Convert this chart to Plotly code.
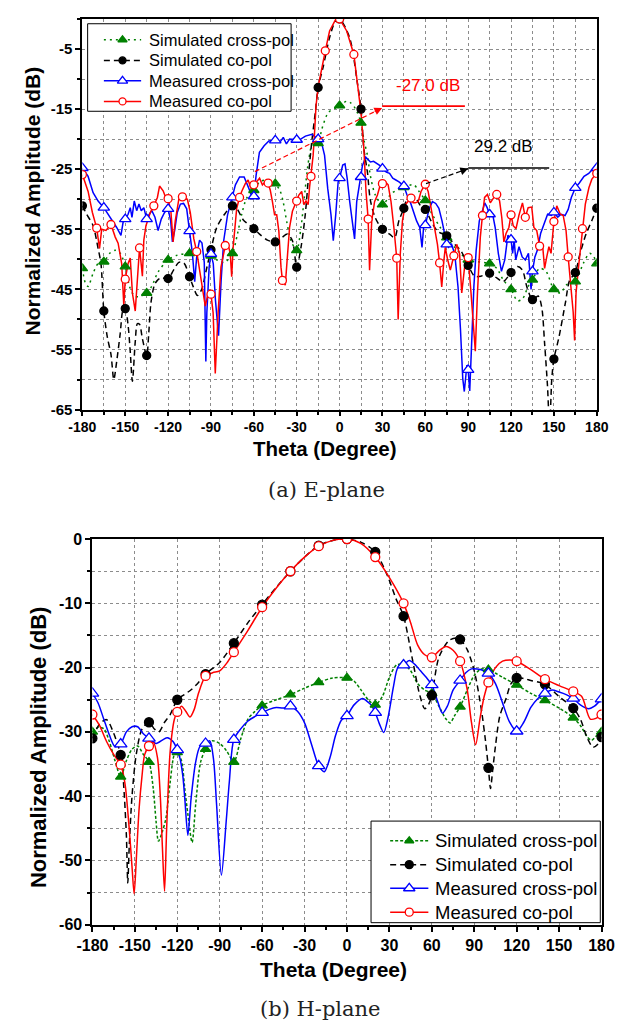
import plotly.graph_objects as go

W, H = 625, 1032

# ================= E-plane (a) =================
E_th_sim_x = [-180, -178, -176, -172.5, -169, -165, -160.5, -157, -153.5, -150, -147, -143.5, -140, -135, -131.5, -127,
              -120, -113.5, -105, -98, -90, -85, -80.5, -75, -71.5, -68.5, -65, -60, -56, -51.5, -45, -41.5, -39.5, -37,
              -34, -30, -27, -25, -21.5, -18.5, -15, -12.5, -8, -3.5, 0, 5, 8, 11.5, 15, 17, 19.5, 21.5, 25, 30, 36.5,
              45, 52, 55, 60, 65, 70.5, 75, 80.5, 85, 90, 96.5, 105, 110, 114.5, 120, 124.5, 128, 132, 135, 140, 144.5,
              150, 154.5, 159, 165, 170.5, 175, 178, 180]
E_sim_x = [-41.5, -43.9, -44.5, -42.3, -40.7, -40.4, -38.9, -38.5, -39, -41.2, -44.5, -46.1, -46.2, -45.6, -44.5, -42.1,
           -40.1, -39.3, -39, -39, -39.4, -40.2, -40.5, -39, -35.8, -32.5, -29.8, -28.5, -27.1, -26.8, -27.4, -28.7, -30.4, -33.7,
           -36.9, -38.5, -34.7, -30.4, -23.3, -20.5, -20.7, -18.4, -15.6, -14.9, -14.4, -13.7, -14, -15.1, -17.3, -20.1, -22.7, -26, -29.3, -30.9, -29,
           -28, -27.6, -28.5, -30.2, -32.6, -34.7, -36.4, -38, -39.1, -40.1, -40.4, -40.7, -41.5, -43.4, -45, -46.9, -46.6, -44.5, -43.4, -41.5, -42,
           -45, -45.6, -44.2, -43.7, -40.7, -39, -39.6, -40.7]

E_th_sim_co = [-180, -177, -172.5, -169, -167, -165, -162.5, -160, -158, -156, -153.5, -151.5, -150, -148, -146.5, -145,
               -143, -141.5, -140, -138, -135, -133.5, -132, -129.5, -127.5, -125, -120, -116, -112.5, -109, -105, -102.5,
               -99.5, -96.5, -93.5, -90, -86, -80.5, -75, -71.5, -67.5, -60, -56, -50.5, -45, -40.5, -36.5, -33, -30, -27,
               -24, -21.5, -19.5, -17, -15, -11.5, -7, -3, 0, 7, 12.5, 15, 17, 19.5, 21.5, 25, 30, 35, 38.5, 41.5, 45, 47,
               50.5, 54, 57, 60, 64, 68.5, 75, 80.5, 85, 90, 94.5, 99, 105, 110, 114.5, 120, 124.5, 128, 131, 135, 139,
               141.5, 143.5, 145.5, 147, 148.5, 150, 153.5, 158, 161, 165, 168, 172.5, 177, 180]
E_sim_co = [-31.1, -32.5, -34.4, -38.2, -40.7, -48.6, -53, -55.8, -60, -57, -52.3, -48.4, -48.2, -51, -55.4, -60.3,
            -53.7, -50.7, -50.8, -53.2, -56.0, -52.1, -47.2, -44.2, -43.5, -43.1, -43.2, -41.7, -40.5, -40.6, -42.9, -44.5,
            -46, -45, -42, -38.4, -34.7, -32.5, -31.1, -31.7, -33.4, -34.9, -35.8, -36.8, -37.1, -36.4, -35.8, -36.9, -41.3, -38,
            -32.5, -25.5, -20.5, -15.6, -11.4, -8, -3.1, -0.4, 0, -3.1, -10.7, -15, -21.6, -25.5, -30.1, -33.1, -35, -35.8, -36.4, -33.6, -31.5, -30.1,
            -29.6, -30.1, -31.2, -31.7, -33.6, -35.3, -36.1, -37.5, -38.6, -41, -42.8, -42.8, -42.3, -43.1, -43.7, -42.2, -41.2, -41.8, -44.5, -46.7, -46.1,
            -48, -54, -61, -68, -60, -56.6, -53, -47.3, -43.5, -42.2, -39.3, -35.8, -33.3, -31.5]

E_th_meas_x = [-180, -176, -172.5, -169, -165, -161.5, -158.5, -156, -153, -151.5, -150, -148, -146.5, -145.3, -143.7, -142,
               -140.4, -138.8, -137, -135, -133.7, -131.4, -129.2, -127, -124.8, -122.5, -120, -118.2, -117, -115.4, -113.6,
               -111.4, -109.2, -107, -105, -103, -101.4, -99.8, -98, -96.3, -94.7, -93.6, -92.9, -91.3, -90, -88.4, -86.9,
               -84.7, -82.9, -81.1, -78.4, -75, -72.9, -70, -66.8, -64, -61.7, -60, -58.4, -56.1, -52.8, -49.5, -45, -41.7,
               -39.4, -37.2, -35, -30, -27.2, -23.9, -19.4, -15, -12.7, -10.5, -8.3, -6, -4.4, -2.7, -1, 0, 2.2, 3.8, 5.3,
               7.1, 8.9, 10.5, 12, 15, 16, 18.3, 19.4, 21.6, 23.8, 26.1, 28.3, 30, 32.7, 35, 37.2, 39.4, 41.6, 45, 47.2,
               49.4, 51.7, 53.9, 56.1, 57.7, 58.8, 60, 62.8, 65, 67.3, 69.5, 71.7, 75, 76.2, 78.4, 80.6, 82.9, 84.6, 86.2,
               87.3, 89.1, 90, 91.1, 92.2, 94, 95.6, 97.8, 100, 101.6, 103.3, 105, 107.3, 108.9, 111.1, 113.3, 115.6, 117.8,
               120, 121.1, 122.2, 123.3, 125.6, 127.8, 130, 132.2, 134, 135, 136.7, 138.4, 140.7, 142.9, 145.6, 148.2, 150,
               152.7, 155.1, 157.8, 160, 162.2, 165, 167.8, 171.1, 174.4, 177.8, 180]
E_meas_x = [-24.8, -26.2, -28.9, -30.3, -31.4, -32.7, -33.6, -34.7, -36, -33.8, -33.3, -32.5, -31.4, -33, -30.3, -31.9,
            -30.8, -31.9, -31.4, -33.3, -32.7, -31.9, -33, -35.2, -33.3, -32.2, -31.6, -33.6, -37.1, -35.2, -32.2,
            -30.8, -30.7, -31.6, -35.3, -39, -43.7, -39, -36.8, -37.3, -40.5, -57, -48.9, -41.3, -39.1, -40.7, -46.7,
            -52.7, -43.5, -36.9, -32.6, -29.7, -27.6, -26.3, -26.3, -27.9, -29.3, -29.5, -26, -22.2, -21.1, -20.3, -20.2, -20.5,
            -19.7, -20.8, -20, -20.1, -20, -19.5, -19.2, -20, -20.5, -22.7, -28.2, -32.6, -36.9, -32.6, -27.1, -26.5, -24.3, -24.1, -26.5,
            -30.4, -34.2, -36.6, -30.4, -26.3, -24.4, -23, -23.3, -23.8, -23.7, -24.1, -24.4, -24.9, -25.5, -25.7, -26.5, -26.8, -27.1, -27.8, -29.3,
            -30.4, -32, -33.6, -34.7, -38, -34.7, -34.3, -31.5, -30.4, -30.7, -31.5, -33.6, -37.5, -38, -37.5, -39.1, -44.6, -51.6, -59.8,
            -62, -57.6, -58.4, -61.9, -55.4, -44.5, -38.5, -33.6, -31.9, -30.6, -31.4, -32.5, -32.7, -34.7, -39, -42, -40.1, -36,
            -36.7, -39, -36.8, -40.1, -37.9, -39.6, -40.1, -39, -45, -42, -39.6, -38.5, -35.7, -34.4, -32.5, -32.7, -32.2,
            -33, -32.5, -32.7, -31.7, -29.7, -28.1, -27.3, -26.2, -25.7, -24.8, -24.8]

E_th_meas_co = [-180, -176, -173, -170, -168, -166.5, -163.5, -160, -157, -155, -152.5, -151, -150, -148, -146.5, -145,
                -143, -141.5, -140, -138, -137, -135.5, -132.5, -130, -127.5, -126, -123.5, -122, -120, -118, -116.5, -115,
                -112.5, -110, -106.5, -104.5, -102, -100, -97, -94, -92, -90, -88.5, -87, -85, -83, -80, -78, -76.5, -75.5,
                -74.5, -72, -70, -68.5, -66, -64, -62, -60, -58.5, -56, -54, -52, -50, -48.5, -47, -45.5, -44, -42.5, -41,
                -40, -38, -36.5, -35, -33, -30, -28.5, -26.5, -25, -23.5, -22, -21, -20, -18.5, -17.5, -16.5, -15, -12.5,
                -10, -7, -3, 0, 5, 10, 12.5, 15, 17, 18.5, 20, 21, 22.5, 24.5, 26.5, 28.5, 30, 32, 34, 36, 38, 40, 41, 42.5,
                44, 46, 50, 51.5, 53, 55, 57, 60, 62, 64, 66, 68.5, 70, 71.5, 73, 74, 75.5, 77.5, 80, 82, 84, 85.5, 87.5, 90,
                92, 95, 96.5, 98.5, 100, 101.5, 103.5, 105.5, 108, 110, 112, 113.5, 115, 116.5, 118.5, 120, 121.5, 123.5,
                125.5, 128, 130, 132, 134.5, 136, 138, 140, 142, 143.5, 145, 146.5, 148, 150, 152, 154.5, 156.5, 158.5, 160,
                162, 163.5, 164.5, 165.5, 167.5, 169, 170, 172, 174.5, 176.5, 179, 180]
E_meas_co = [-25.9, -28.7, -32.2, -34.8, -38.2, -35, -35.2, -34.2, -36.3, -37.3, -40.7, -47.7, -43.3, -40.7, -39.8, -45.6,
             -48.6, -42.3, -38.1, -42.8, -36.8, -34.4, -32.2, -31.1, -29.7, -27.8, -28.6, -29.5, -29.9, -32.2, -37.1, -33.6,
             -30, -29.6, -30, -32.2, -36.6, -38.7, -43.4, -47.8, -45.6, -45.8, -48.9, -59, -48.9, -41.3, -37.7, -37.5, -39.1, -42.9,
             -38, -31.5, -29.7, -28.7, -27.4, -26.8, -28.2, -27.6, -27.1, -26.5, -27.6, -27.1, -27.3, -28.5, -30.4, -32.6, -32.6, -35.3, -41.3,
             -43.5, -44.3, -40.2, -34.7, -32, -30.3, -29.3, -28.7, -30.9, -30.3, -30.9, -28, -26.2, -22.7, -18.9, -14.5, -11.3, -8,
             -5.3, -2, -0.2, 0, -2, -5.9, -10.7, -15.6, -21.6, -28.7, -33.3, -41.8, -33.6, -30.4, -29.3, -27.6, -27.4, -27.1, -27.6, -30.4, -34.7, -39.8, -50, -39.1,
             -33.6, -30.9, -29.8, -30.6, -30.6, -30.4, -28.7, -27.5, -28.7, -31.5, -34.7, -37.5, -40.6, -44.6, -40.2, -38, -39.9, -41.8, -39.4, -37.5, -39.1, -45.6, -41.3, -39.7,
             -45.6, -55.3, -45.6, -36.3, -32.7, -29.7, -29.2, -30.6, -29.7, -29.2, -30.3, -33, -37.1, -35.7, -34.7, -32.6, -34.4, -34.9,
             -32.7, -30.6, -33, -31.4, -31.3, -34.7, -35.2, -37.8, -37.4, -41.5, -39.6, -37.9, -39, -33.7, -31.1, -32.5, -32.7, -35.2, -39.6,
             -44.5, -48.8, -53.5, -45.6, -40.7, -37.4, -34.9, -30.8, -28.1, -26.7, -25.9, -25.7]

# ================= H-plane (b) =================
H_th_sim_x = [-180, -176, -172, -168, -164, -160, -156, -152, -148, -144, -140, -137, -135, -133.3, -130.5, -128, -125,
              -122, -120, -117, -114.7, -112.5, -109.5, -107, -103.5, -100, -95.5, -90, -85, -80, -75, -70, -65, -60, -50,
              -40, -30, -20, -10, 0, 5, 10, 15, 20, 25, 30, 35, 40, 45, 50, 55, 60, 65, 70, 73, 76, 80, 85, 90, 95, 100,
              110, 120, 130, 140, 150, 160, 165, 170, 173, 176, 180]
H_sim_x = [-30, -29.3, -29.5, -31.5, -34.5, -37, -34.5, -32.7, -32.2, -33.5, -34.7, -38.8, -43.9, -47, -45.5, -43.4, -37.8,
           -33.5, -33.2, -34.5, -38.8, -42.8, -47.2, -41.3, -34.7, -32.7, -31.4, -31.8, -33, -34.7, -31, -28, -26.8, -25.9, -25,
           -24.2, -23.2, -22.3, -21.6, -21.6, -22.1, -23.5, -25, -25.8, -24.5, -21.5, -19.6, -19.5, -20.5, -22.5, -23.5, -24, -26, -28, -28.6,
           -27.5, -26.1, -23.5, -21.2, -20.2, -20.3, -21.5, -22.7, -24, -25.1, -26.3, -27.8, -29, -30.8, -31.3, -30.7, -30]

H_th_sim_co = [-180, -175, -170, -165, -160, -158, -156, -155, -154, -152, -149, -145, -140, -136, -133, -129, -125, -120,
               -115, -110, -105, -100, -90, -80, -70, -60, -50, -40, -30, -20, -10, 0, 10, 20, 29, 34.5, 40, 46, 51.5, 55,
               58, 60, 65, 72, 77, 80, 85, 90, 95, 98, 100, 101.5, 103, 105, 108, 112.5, 116, 120, 125, 130, 140, 150, 160,
               165, 170, 174, 177, 180]
H_sim_co = [-31, -28.8, -28.1, -30.2, -33.6, -38, -46, -53.5, -48, -40, -33.5, -29.6, -28.5, -29.6, -30, -28.5, -27.3, -25,
            -24.2, -23.4, -22.3, -21, -19.2, -16.2, -13, -10.2, -7.5, -5, -2.8, -1.0, -0.2, 0, -0.5, -2, -5.9, -9.2, -12, -18.4, -24.3, -26.4,
            -25.6, -24.3, -18.4, -15.8, -15.4, -15.6, -17.2, -20.5, -26.5, -31.5, -35.6, -38.8, -36, -32.2, -27.6, -24.8, -22.5, -21.6, -21.7, -22, -22.6, -24.5, -26.3,
            -28, -31, -32.4, -32, -30.8]

H_th_meas_x = [-180, -176, -172, -168, -164, -160, -156, -152, -148, -144, -140, -135, -130, -127, -123, -120, -118, -116,
               -114.7, -112.5, -110.2, -107, -104, -100, -97, -94.4, -92.2, -88.8, -85.4, -83.2, -80, -75, -70, -65, -60,
               -55, -50, -45, -40, -35, -30, -25, -20, -16, -12, -8, -4, 0, 5, 11, 14, 17, 20, 23, 26, 29, 33, 36, 40, 44,
               48, 52, 56, 60, 64, 67.5, 71, 75, 80, 84, 88, 92, 96, 100, 105, 110, 115, 120, 125, 130, 135, 140, 145, 150,
               155, 160, 165, 171, 175, 180]
H_meas_x = [-24, -25.5, -28, -30.5, -32.3, -31.9, -30, -29.2, -29.2, -30.3, -31, -31.8, -31.2, -30.9, -31.5, -32.8, -34.2, -37,
            -40.3, -46.1, -40.3, -34.7, -32.3, -31.8, -31.4, -34.2, -41.3, -52.3, -43.9, -37.8, -31.2, -29.5, -28.3, -27.6, -27,
            -26.5, -26.2, -26.3, -26, -26.8, -28.6, -32, -35.3, -36.2, -34, -30.5, -28.2, -27.5, -25.8, -24.8, -25.2, -25.8, -27, -28.8, -30.1, -27.8,
            -22.8, -20, -19.6, -18.9, -19.5, -20.5, -21.5, -22.7, -25.2, -27.1, -26, -23.5, -22, -20.8, -20.2, -20.2, -20.4, -20.9, -22.5,
            -25.5, -28.5, -29.9, -28.5, -26.2, -24.8, -24, -23.5, -23.8, -24.2, -24.8, -25.8, -26.4, -26, -24.9]

H_th_meas_co = [-180, -175, -170, -165, -160, -157, -154, -152, -150.5, -149, -147, -145, -143, -140, -137, -134, -132,
                -130.5, -129, -127.5, -125, -122, -120, -117, -114, -111, -108, -105, -100, -95, -90, -85, -80, -70, -60,
                -50, -40, -30, -20, -10, 0, 10, 20, 30, 40, 45, 50, 55, 60, 65, 70, 75, 80, 85, 88, 91, 94, 97, 100, 105,
                110, 115, 120, 130, 140, 150, 160, 166, 172, 176, 180]
H_meas_co = [-27.3, -29, -31.5, -33.5, -35.1, -38, -45, -51, -55.2, -50, -42, -37, -33.5, -32.2, -31.6, -34, -40,
             -48, -54.8, -45, -33, -28, -26.9, -26, -26.8, -27.7, -26.5, -24, -21.3, -20.8, -20.5, -19.3, -17.6, -14.2, -10.6,
             -7.6, -5, -2.8, -1.1, -0.2, 0, -0.7, -2.8, -6, -10, -13, -16.5, -18, -18.4, -17.4, -16.7, -17.3, -19, -23.4, -28.5,
             -32, -28, -24.5, -22.3, -20, -19, -18.8, -19, -20.3, -21.8, -22.8, -23.7, -24.5, -28, -27.9, -27.3]

# ticks
E_xticks = [-180, -150, -120, -90, -60, -30, 0, 30, 60, 90, 120, 150, 180]
E_yticks = [-65, -55, -45, -35, -25, -15, -5]
H_xticks = [-180, -150, -120, -90, -60, -30, 0, 30, 60, 90, 120, 150, 180]
H_yticks = [-60, -50, -40, -30, -20, -10, 0]

NAMES = ["Simulated cross-pol", "Simulated co-pol", "Measured cross-pol", "Measured co-pol"]
GREEN, BLACK, BLUE, RED = "#008000", "#000000", "#0000FF", "#FF0000"
FONT = "Liberation Sans"
GRID = "#8c8c8c"

# plot-area geometry (pixels)
TOP = dict(l=69.5, r=608, t=11.15, b=408.3, yr=[-65, 0])
BOT = dict(l=80, r=613, t=540, b=932, yr=[-60, 0])

fig = go.Figure()


def add_line(th, vals, xa, ya, color, dash, spline):
    fig.add_trace(go.Scatter(x=th, y=vals, xaxis=xa, yaxis=ya, mode="lines", showlegend=False,
                             line=dict(color=color, width=1.5, dash=dash, shape="spline" if spline else "linear",
                                       smoothing=0.8), hoverinfo="skip"))


def add_markers(th, vals, xa, ya, color, msym, mfill, msize, step):
    mt = [t for t in th if t % step == 0]
    mv = [v for t, v in zip(th, vals) if t % step == 0]
    fig.add_trace(go.Scatter(x=mt, y=mv, xaxis=xa, yaxis=ya, mode="markers", showlegend=False,
                             marker=dict(symbol=msym, size=msize, color=mfill,
                                         line=dict(color=color, width=1.3)), hoverinfo="skip"))


top = [
    (E_th_sim_x, E_sim_x, GREEN, "2px,4px", True, "triangle-up", GREEN, 9, 15),
    (E_th_sim_co, E_sim_co, BLACK, "6px,4px", True, "circle", BLACK, 8, 15),
    (E_th_meas_x, E_meas_x, BLUE, "solid", False, "triangle-up", "white", 10, 15),
    (E_th_meas_co, E_meas_co, RED, "solid", False, "circle", "white", 8, 10),
]
bot = [
    (H_th_sim_x, H_sim_x, GREEN, "3px,2px", True, "triangle-up", GREEN, 9, 20),
    (H_th_sim_co, H_sim_co, BLACK, "6px,4px", True, "circle", BLACK, 9, 20),
    (H_th_meas_x, H_meas_x, BLUE, "solid", True, "triangle-up", "white", 11, 20),
    (H_th_meas_co, H_meas_co, RED, "solid", True, "circle", "white", 9, 20),
]

# legend boxes drawn inside each panel (pixel geometry -> panel coordinates)
LEG_TOP = dict(box=(75, 288, 16, 105), rows=[32.3, 53.3, 74, 95], lx=(92, 131), mx=111.5, tx=137, fs=16.5)
LEG_BOT = dict(box=(371.7, 611.7, 826.7, 930), rows=[846.7, 871, 895, 919.3], lx=(391.7, 431.7), mx=411.7,
               tx=436.7, fs=18.5)

legend_texts = []


def draw_panel(series, xa, ya, geo, leg):
    def px2x(p):
        return (p - geo["l"]) / (geo["r"] - geo["l"]) * 360 - 180

    def py2y(p):
        y0, y1 = geo["yr"]
        return y1 - (p - geo["t"]) / (geo["b"] - geo["t"]) * (y1 - y0)

    for th, v, c, d, sp, ms, mf, sz, st in series:
        add_line(th, v, xa, ya, c, d, sp)
    for th, v, c, d, sp, ms, mf, sz, st in series:
        add_markers(th, v, xa, ya, c, ms, mf, sz, st)
    # legend frame
    bl, br, bt, bb = leg["box"]
    fig.add_trace(go.Scatter(x=[px2x(bl), px2x(br), px2x(br), px2x(bl), px2x(bl)],
                             y=[py2y(bt), py2y(bt), py2y(bb), py2y(bb), py2y(bt)],
                             xaxis=xa, yaxis=ya, mode="lines", fill="toself", fillcolor="white",
                             line=dict(color="black", width=1), showlegend=False, hoverinfo="skip"))
    for (th, v, c, d, sp, ms, mf, sz, st), nm, ry in zip(series, NAMES, leg["rows"]):
        fig.add_trace(go.Scatter(x=[px2x(leg["lx"][0]), px2x(leg["lx"][1])], y=[py2y(ry), py2y(ry)],
                                 xaxis=xa, yaxis=ya, mode="lines", line=dict(color=c, width=1.5, dash=d),
                                 showlegend=False, hoverinfo="skip"))
        fig.add_trace(go.Scatter(x=[px2x(leg["mx"])], y=[py2y(ry)], xaxis=xa, yaxis=ya, mode="markers",
                                 marker=dict(symbol=ms, size=sz - 1, color=mf, line=dict(color=c, width=1.3)),
                                 showlegend=False, hoverinfo="skip"))
        legend_texts.append(dict(x=px2x(leg["tx"]), y=py2y(ry), xref=xa, yref=ya, text=nm, showarrow=False,
                                 xanchor="left", yanchor="middle",
                                 font=dict(family=FONT, size=leg["fs"], color="black")))


draw_panel(top, "x", "y", TOP, LEG_TOP)
draw_panel(bot, "x2", "y2", BOT, LEG_BOT)


def xaxis(domain, anchor, ticks, minor_vals, grid_minor, fs, tl):
    return dict(domain=domain, anchor=anchor, range=[-180, 180], tickmode="array",
                tickvals=ticks, ticktext=[str(t) for t in ticks],
                tickfont=dict(family=FONT, size=fs, color="black", weight="bold"),
                showline=True, linewidth=2, linecolor="black", mirror=True,
                ticks="outside", ticklen=tl, tickwidth=1.5, tickcolor="black",
                showgrid=True, gridcolor=GRID, griddash="dot", gridwidth=1, zeroline=False,
                minor=dict(tickmode="array", tickvals=minor_vals, ticks="outside", ticklen=3,
                           tickcolor="black", showgrid=grid_minor, gridcolor=GRID, griddash="dot"))


def yaxis(domain, anchor, rng, ticks, minor_vals, fs):
    return dict(domain=domain, anchor=anchor, range=rng, tickmode="array",
                tickvals=ticks, ticktext=[str(t) for t in ticks],
                tickfont=dict(family=FONT, size=fs, color="black", weight="bold"),
                showline=True, linewidth=2, linecolor="black", mirror=True,
                ticks="outside", ticklen=5, tickwidth=1.5, tickcolor="black",
                showgrid=True, gridcolor=GRID, griddash="dot", gridwidth=1, zeroline=False,
                minor=dict(tickmode="array", tickvals=minor_vals, ticks="outside", ticklen=3,
                           tickcolor="black", showgrid=True, gridcolor=GRID, griddash="dot"))


fig.update_layout(
    width=W, height=H, margin=dict(l=0, r=0, t=0, b=0), showlegend=False,
    plot_bgcolor="white", paper_bgcolor="white",
    xaxis=xaxis([TOP["l"] / W, TOP["r"] / W], "y", E_xticks, list(range(-165, 180, 30)), True, 14, 4),
    yaxis=yaxis([1 - TOP["b"] / H, 1 - TOP["t"] / H], "x", TOP["yr"], E_yticks, list(range(-60, 1, 10)), 15),
    xaxis2=xaxis([BOT["l"] / W, BOT["r"] / W], "y2", H_xticks, list(range(-165, 180, 30)), False, 16, 5),
    yaxis2=yaxis([1 - BOT["b"] / H, 1 - BOT["t"] / H], "x2", BOT["yr"], H_yticks, list(range(-55, 0, 10)), 16),
)

# annotation lines (E-plane)
fig.add_shape(type="line", xref="x", yref="y", x0=-59.3, y0=-25.4, x1=29.8, y1=-14.8,
              line=dict(color=RED, width=1.2, dash="5px,3px"))
fig.add_shape(type="line", xref="x", yref="y", x0=29.8, y0=-14.5, x1=87.7, y1=-14.5,
              line=dict(color=RED, width=1.6))
fig.add_shape(type="line", xref="x", yref="y", x0=60.5, y0=-27.4, x1=90, y1=-24.9,
              line=dict(color=BLACK, width=1.2, dash="5px,3px"))
fig.add_shape(type="line", xref="x", yref="y", x0=90, y0=-24.8, x1=146.7, y1=-24.8,
              line=dict(color=BLACK, width=1.6))

C = dict(xanchor="center", yanchor="middle", showarrow=False)
anns = [
    dict(x=29.8, y=-14.8, xref="x", yref="y", ax=-9, ay=4.4, showarrow=True, arrowhead=2,
         arrowsize=1.3, arrowwidth=1.2, arrowcolor=RED, text=""),
    dict(x=90, y=-24.9, xref="x", yref="y", ax=-9.4, ay=3.4, showarrow=True, arrowhead=2,
         arrowsize=1.3, arrowwidth=1.2, arrowcolor=BLACK, text=""),
    dict(x=62, y=-11.1, xref="x", yref="y", text="-27.0 dB",
         font=dict(family=FONT, size=17, color=RED), **C),
    dict(x=115, y=-21.3, xref="x", yref="y", text="29.2 dB",
         font=dict(family=FONT, size=17, color=BLACK), **C),
    # axis titles
    dict(x=17.5 / W, y=1 - 196 / H, xref="paper", yref="paper", text="<b>Normalized Amplitude (dB)</b>",
         textangle=-90, font=dict(family=FONT, size=21, color="black"), **C),
    dict(x=324 / W, y=1 - 448 / H, xref="paper", yref="paper", text="<b>Theta (Degree)</b>",
         font=dict(family=FONT, size=20.5, color="black"), **C),
    dict(x=23.5 / W, y=1 - 751 / H, xref="paper", yref="paper", text="<b>Normalized Amplitude (dB)</b>",
         textangle=-90, font=dict(family=FONT, size=22, color="black"), **C),
    dict(x=332 / W, y=1 - 978 / H, xref="paper", yref="paper", text="<b>Theta (Degree)</b>",
         font=dict(family=FONT, size=21, color="black"), **C),
    # captions
    dict(x=325 / W, y=1 - 490 / H, xref="paper", yref="paper", text="(a) E-plane",
         font=dict(family="DejaVu Serif", size=21, color="#222"), **C),
    dict(x=319 / W, y=1 - 1018 / H, xref="paper", yref="paper", text="(b) H-plane",
         font=dict(family="DejaVu Serif", size=21, color="#222"), **C),
] + legend_texts
fig.update_layout(annotations=anns)

fig.write_html("out.html")
